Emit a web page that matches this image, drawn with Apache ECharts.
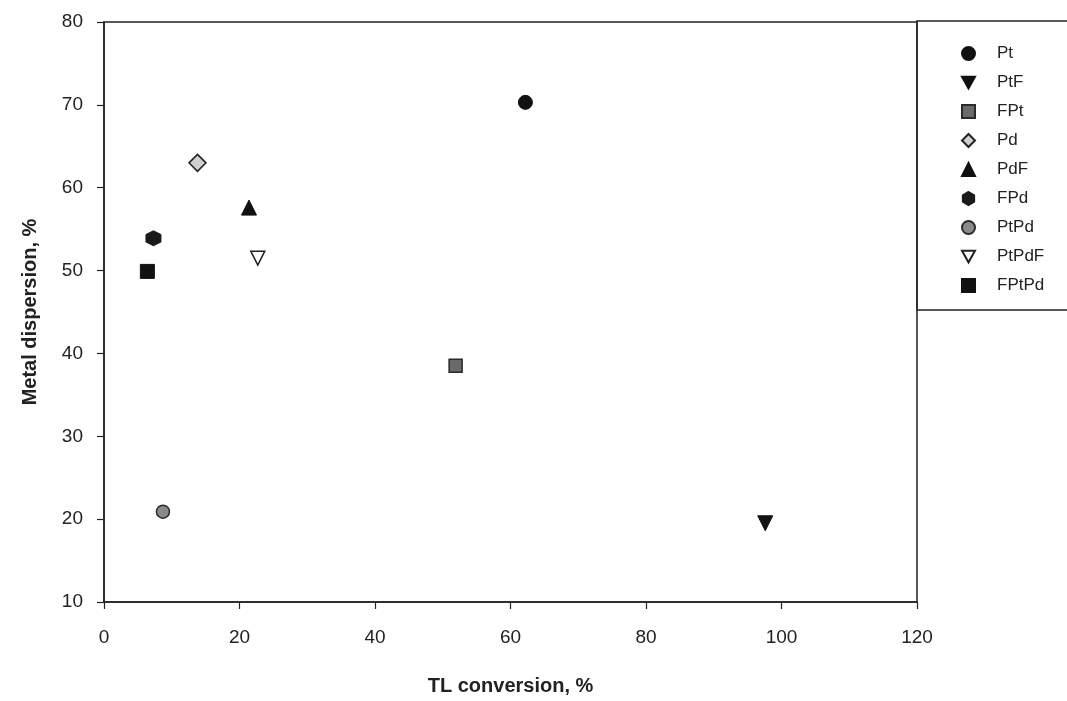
<!DOCTYPE html>
<html>
<head>
<meta charset="utf-8">
<script src="https://cdn.jsdelivr.net/npm/echarts@6/dist/echarts.min.js"></script>
<style>
  html, body { margin: 0; padding: 0; background: #ffffff; }
  #chart { width: 1067px; height: 701px; }
</style>
</head>
<body>
<div id="chart"></div>
<script>
// Catalyst samples: TL conversion (%) vs metal dispersion (%)
const sampleNames = ['Pt', 'PtF', 'FPt', 'Pd', 'PdF', 'FPd', 'PtPd', 'PtPdF', 'FPtPd'];
const tlConversion = [62.2, 97.6, 51.9, 13.8, 21.4, 7.3, 8.7, 22.7, 6.4];
const metalDispersion = [70.3, 19.5, 38.5, 63.0, 57.6, 53.9, 20.9, 51.5, 49.9];

const xTicks = [0, 20, 40, 60, 80, 100, 120];
const yTicks = [10, 20, 30, 40, 50, 60, 70, 80];

// Marker appearance for each sample
const downTriangle = 'path://M0,0 L10,0 L5,9 Z';
const hexagon = 'path://M5,0 L9.33,2.5 L9.33,7.5 L5,10 L0.67,7.5 L0.67,2.5 Z';
const markerStyles = {
  Pt:    { symbol: 'circle',   size: 14, color: '#111', border: '#111', bw: 1 },
  PtF:   { symbol: downTriangle, size: 15, color: '#111', border: '#111', bw: 1 },
  FPt:   { symbol: 'rect',     size: 13, color: '#6a6a6a', border: '#2a2a2a', bw: 1.5 },
  Pd:    { symbol: 'diamond',  size: 17, color: '#d0d0d0', border: '#222', bw: 1.5 },
  PdF:   { symbol: 'triangle', size: 15, color: '#111', border: '#111', bw: 1 },
  FPd:   { symbol: hexagon,    size: 15, color: '#1a1a1a', border: '#1a1a1a', bw: 1 },
  PtPd:  { symbol: 'circle',   size: 13, color: '#8a8a8a', border: '#2a2a2a', bw: 1.5 },
  PtPdF: { symbol: downTriangle, size: 14, color: '#ffffff', border: '#222', bw: 1.5 },
  FPtPd: { symbol: 'rect',     size: 14, color: '#111', border: '#111', bw: 1 }
};

const series = sampleNames.map((name, i) => {
  const m = markerStyles[name];
  return {
    name: name,
    type: 'scatter',
    data: [[tlConversion[i], metalDispersion[i]]],
    symbol: m.symbol,
    symbolSize: m.size,
    itemStyle: { color: m.color, borderColor: m.border, borderWidth: m.bw, opacity: 1 },
    emphasis: { disabled: true }
  };
});

const labelFont = 'Liberation Sans, Arial, Helvetica, sans-serif';
const narrowFont = 'Liberation Sans Narrow, Arial Narrow, Liberation Sans, Arial, sans-serif';

const chart = echarts.init(document.getElementById('chart'), null, { renderer: 'canvas' });
chart.setOption({
  backgroundColor: '#ffffff',
  animation: false,
  grid: {
    left: 104, right: 150, top: 22, bottom: 97,
    show: true, borderColor: '#222', borderWidth: 1.5, backgroundColor: 'transparent'
  },
  xAxis: {
    type: 'value',
    min: xTicks[0], max: xTicks[xTicks.length - 1], interval: 20,
    name: 'TL conversion, %',
    nameLocation: 'middle', nameGap: 74,
    nameTextStyle: { fontFamily: labelFont, fontWeight: 'bold', fontSize: 20, color: '#222' },
    axisLine: { show: true, lineStyle: { color: '#222', width: 1.5 } },
    axisTick: { show: true, length: 7, lineStyle: { color: '#222', width: 1.2 } },
    axisLabel: { margin: 26, fontFamily: narrowFont, fontSize: 19, color: '#222' },
    splitLine: { show: false }
  },
  yAxis: {
    type: 'value',
    min: yTicks[0], max: yTicks[yTicks.length - 1], interval: 10,
    name: 'Metal dispersion, %',
    nameLocation: 'middle', nameGap: 64, nameRotate: 90,
    nameTextStyle: { fontFamily: labelFont, fontWeight: 'bold', fontSize: 20, color: '#222' },
    axisLine: { show: true, lineStyle: { color: '#222', width: 1.5 } },
    axisTick: { show: true, length: 7, lineStyle: { color: '#222', width: 1.2 } },
    axisLabel: { margin: 21, fontFamily: labelFont, fontSize: 19, color: '#222' },
    splitLine: { show: false }
  },
  legend: {
    orient: 'vertical',
    left: 956, top: 40,
    itemWidth: 13, itemHeight: 13, itemGap: 12,
    selectedMode: false,
    data: sampleNames,
    textStyle: { fontFamily: labelFont, fontSize: 17, color: '#222', padding: [0, 0, 0, 17] }
  },
  graphic: [{
    type: 'rect',
    shape: { x: 917, y: 21, width: 200, height: 289 },
    style: { fill: 'none', stroke: '#222', lineWidth: 1.5 },
    silent: true
  }],
  series: series
});
</script>
</body>
</html>
